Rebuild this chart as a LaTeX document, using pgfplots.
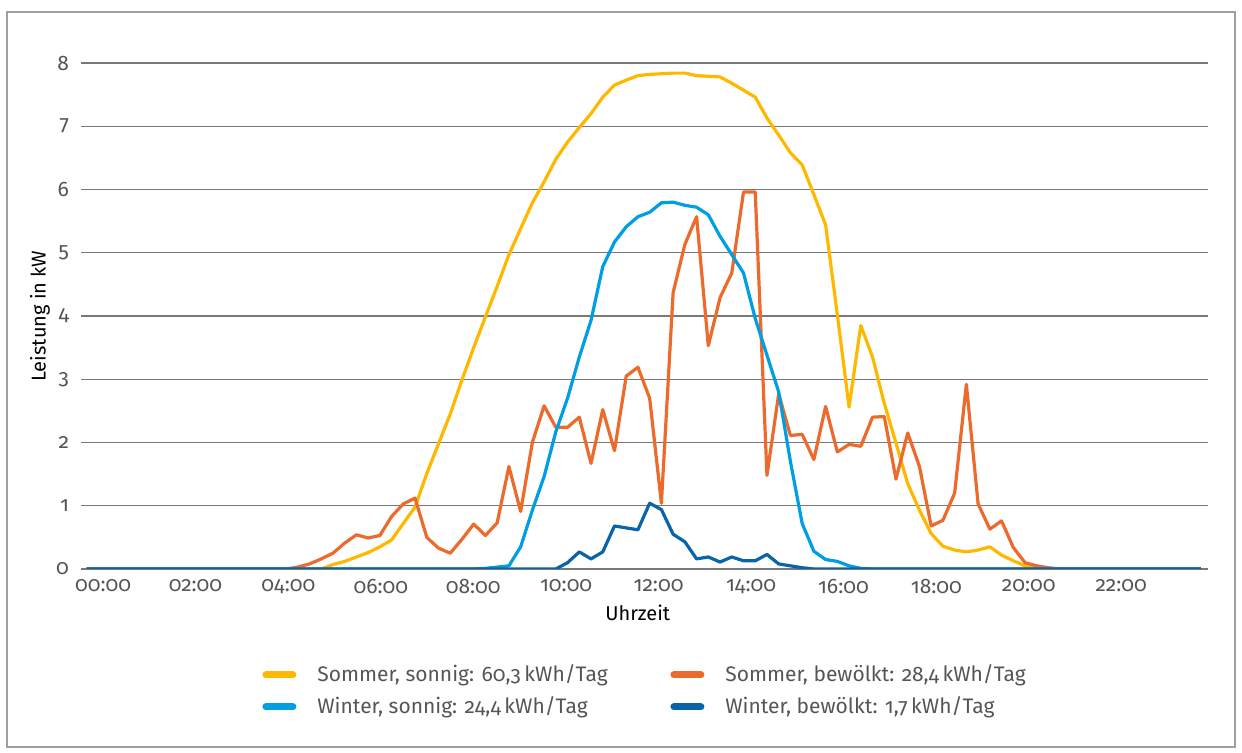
\documentclass[border=0pt]{standalone}
\usepackage{fontspec}
\setmainfont{Fira Sans}[Numbers=OldStyle]
\usepackage{pgfplots}
\usepackage{pgfplotstable}
\pgfplotsset{compat=1.18}

\definecolor{cSS}{RGB}{255,184,0}
\definecolor{cSB}{RGB}{236,106,43}
\definecolor{cWS}{RGB}{0,159,227}
\definecolor{cWB}{RGB}{10,100,168}
\definecolor{txt}{RGB}{85,85,85}
\definecolor{gridc}{RGB}{120,120,120}

% h = Uhrzeit in Stunden, ss/sb = Sommer sonnig/bewoelkt, ws/wb = Winter sonnig/bewoelkt (kW)
\pgfplotstableread{
h     ss    sb    ws    wb
0.00  0     0     0     0
0.25  0     0     0     0
0.50  0     0     0     0
0.75  0     0     0     0
1.00  0     0     0     0
1.25  0     0     0     0
1.50  0     0     0     0
1.75  0     0     0     0
2.00  0     0     0     0
2.25  0     0     0     0
2.50  0     0     0     0
2.75  0     0     0     0
3.00  0     0     0     0
3.25  0     0     0     0
3.50  0     0     0     0
3.75  0     0     0     0
4.00  0     0     0     0
4.25  0     0     0     0
4.50  0     0.03  0     0
4.75  0     0.08  0     0
5.00  0     0.16  0     0
5.25  0.07  0.25  0     0
5.50  0.12  0.41  0     0
5.75  0.19  0.54  0     0
6.00  0.26  0.49  0     0
6.25  0.35  0.53  0     0
6.50  0.46  0.83  0     0
6.75  0.72  1.03  0     0
7.00  0.98  1.12  0     0
7.25  1.51  0.50  0     0
7.50  1.98  0.33  0     0
7.75  2.45  0.25  0     0
8.00  2.99  0.47  0     0
8.25  3.50  0.71  0     0
8.50  3.99  0.53  0.01  0
8.75  4.47  0.73  0.03  0
9.00  4.97  1.62  0.05  0
9.25  5.38  0.91  0.35  0
9.50  5.79  2.00  0.93  0
9.75  6.12  2.58  1.46  0
10.00 6.48  2.24  2.17  0
10.25 6.75  2.24  2.70  0.10
10.50 6.98  2.40  3.35  0.27
10.75 7.20  1.67  3.93  0.16
11.00 7.46  2.52  4.78  0.27
11.25 7.65  1.87  5.17  0.68
11.50 7.73  3.05  5.41  0.65
11.75 7.80  3.19  5.57  0.62
12.00 7.82  2.70  5.64  1.04
12.25 7.83  1.04  5.79  0.94
12.50 7.84  4.37  5.80  0.55
12.75 7.84  5.13  5.75  0.43
13.00 7.80  5.57  5.72  0.16
13.25 7.79  3.53  5.60  0.19
13.50 7.78  4.29  5.26  0.11
13.75 7.68  4.68  4.97  0.19
14.00 7.57  5.96  4.68  0.13
14.25 7.46  5.96  3.96  0.13
14.50 7.13  1.48  3.38  0.23
14.75 6.86  2.77  2.80  0.08
15.00 6.58  2.11  1.70  0.05
15.25 6.39  2.13  0.72  0.02
15.50 5.92  1.73  0.28  0
15.75 5.44  2.57  0.15  0
16.00 4.02  1.85  0.12  0
16.25 2.56  1.97  0.05  0
16.50 3.85  1.94  0.01  0
16.75 3.35  2.40  0     0
17.00 2.62  2.41  0     0
17.25 1.99  1.42  0     0
17.50 1.35  2.15  0     0
17.75 0.93  1.62  0     0
18.00 0.56  0.68  0     0
18.25 0.36  0.77  0     0
18.50 0.30  1.20  0     0
18.75 0.27  2.92  0     0
19.00 0.30  1.03  0     0
19.25 0.35  0.63  0     0
19.50 0.22  0.76  0     0
19.75 0.13  0.34  0     0
20.00 0.05  0.10  0     0
20.25 0.02  0.05  0     0
20.50 0     0.02  0     0
20.75 0     0     0     0
21.00 0     0     0     0
21.25 0     0     0     0
21.50 0     0     0     0
21.75 0     0     0     0
22.00 0     0     0     0
22.25 0     0     0     0
22.50 0     0     0     0
22.75 0     0     0     0
23.00 0     0     0     0
23.25 0     0     0     0
23.50 0     0     0     0
23.75 0     0     0     0
}\pvdata

\begin{document}
\begin{tikzpicture}[x=1pt,y=1pt]
\useasboundingbox (-40.5,-92) rectangle (580.5,284.5);
\draw[gray!75, line width=0.7pt] (-37,-89) rectangle (577,278.5);
\begin{axis}[
    scale only axis,
    width=563.5pt, height=253pt,
    at={(0,0)}, anchor=south west,
    xmin=-0.12, xmax=23.9,
    ymin=0, ymax=8,
    axis x line*=bottom, axis y line*=left,
    y axis line style={draw=none},
    x axis line style={gridc, line width=0.6pt},
    ymajorgrids, grid style={gridc, line width=0.6pt},
    major tick length=0pt,
    ytick={0,1,...,8},
    xtick={0.35,2.32,4.30,6.27,8.24,10.22,12.19,14.16,16.13,18.11,20.08,22.05},
    xticklabels={00:00,02:00,04:00,06:00,08:00,10:00,12:00,14:00,16:00,18:00,20:00,22:00},
    /pgf/number format/assume math mode=true,
    tick label style={font=\fontsize{10.5}{12.5}\selectfont, text=txt},
    yticklabel shift=2.5pt,
    xticklabel shift=1.5pt,
    label style={font=\fontsize{10.5}{12.5}\selectfont, text=txt},
    xlabel={Uhrzeit}, ylabel={Leistung in kW},
    every axis x label/.style={at={(axis description cs:0.494,-0.087)}, anchor=center},
    every axis y label/.style={at={(axis description cs:-0.0364,0.5)}, rotate=90, anchor=center},
    legend columns=2,
    legend cell align=left,
    legend style={at={(axis description cs:0.1606,-0.181)}, anchor=north west,
        draw=none, fill=none, inner sep=0pt,
        font=\fontsize{10.5}{12.5}\selectfont, text=txt,
        row sep=2pt},
    legend image code/.code={\draw[#1, line width=3.5pt, line cap=round] (1.75pt,0pt) -- (15.25pt,0pt);
        \path[draw=none] (0pt,0pt) -- (25.5pt,0pt);},
    every axis plot/.append style={line width=1.6pt, line join=round, mark=none},
]
\addplot[cSS] table[x=h, y=ss] {\pvdata};
\addlegendentry{\makebox[174.5pt][l]{Sommer, sonnig: 60,3\,kWh/Tag}}
\addplot[cSB] table[x=h, y=sb] {\pvdata};
\addlegendentry{Sommer, bewölkt: 28,4\,kWh/Tag}
\addplot[cWS] table[x=h, y=ws] {\pvdata};
\addlegendentry{\makebox[174.5pt][l]{Winter, sonnig: 24,4\,kWh/Tag}}
\addplot[cWB] table[x=h, y=wb] {\pvdata};
\addlegendentry{Winter, bewölkt: 1,7\,kWh/Tag}
\end{axis}
\end{tikzpicture}
\end{document}
